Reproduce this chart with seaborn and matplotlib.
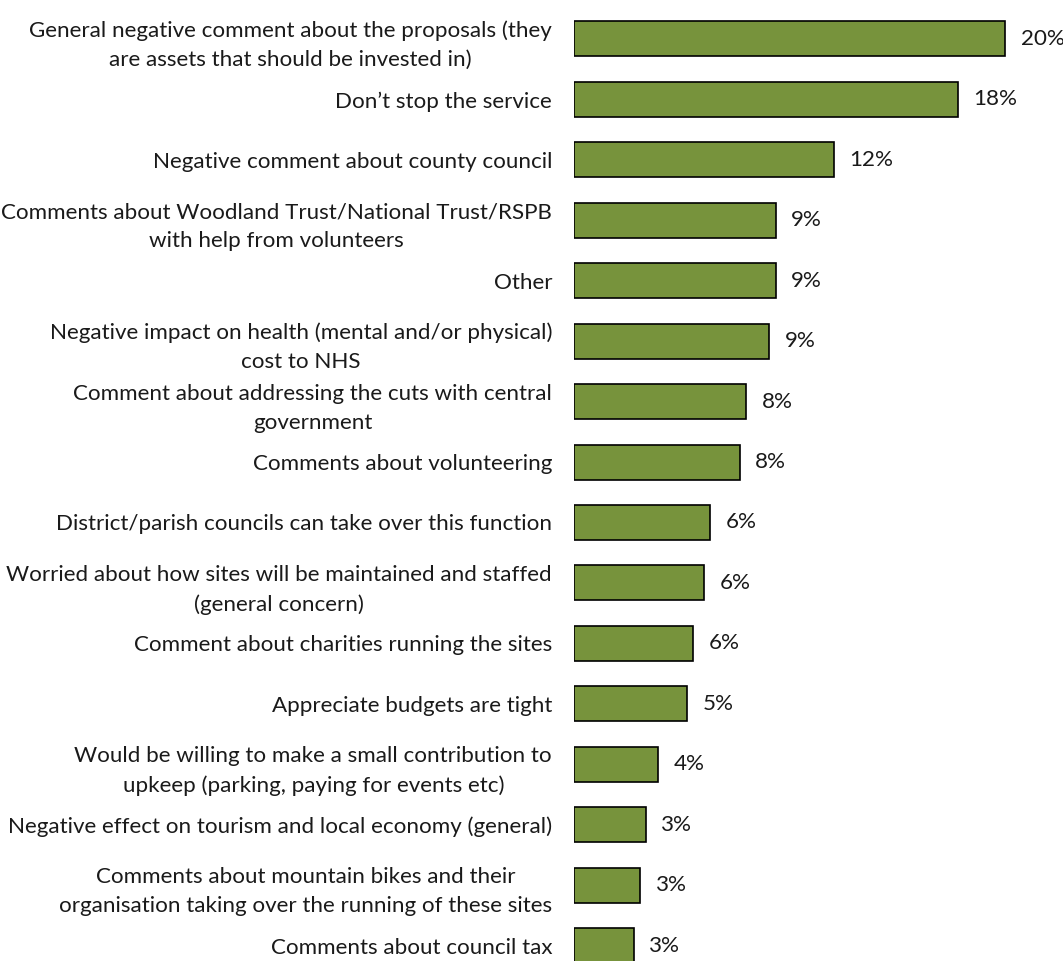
import matplotlib
matplotlib.use("Agg")
import matplotlib.pyplot as plt
from matplotlib.font_manager import FontProperties
import seaborn as sns
import pandas as pd

categories = [
    "General negative comment about the proposals (they\nare assets that should be invested in)",
    "Don\u2019t stop the service",
    "Negative comment about county council",
    "Comments about Woodland Trust/National Trust/RSPB\nwith help from volunteers",
    "Other",
    "Negative impact on health (mental and/or physical)\ncost to NHS",
    "Comment about addressing the cuts with central\ngovernment",
    "Comments about volunteering",
    "District/parish councils can take over this function",
    "Worried about how sites will be maintained and staffed\n(general concern)",
    "Comment about charities running the sites",
    "Appreciate budgets are tight",
    "Would be willing to make a small contribution to\nupkeep (parking, paying for events etc)",
    "Negative effect on tourism and local economy (general)",
    "Comments about mountain bikes and their\norganisation taking over the running of these sites",
    "Comments about council tax",
]
values = [20.0, 17.8, 12.05, 9.35, 9.35, 9.03, 7.97, 7.68, 6.3, 6.03, 5.5, 5.23, 3.87, 3.31, 3.05, 2.76]
value_labels = ["20%", "18%", "12%", "9%", "9%", "9%", "8%", "8%", "6%", "6%", "6%", "5%", "4%", "3%", "3%", "3%"]

FONT = "Lato"
sns.set_style("white")
plt.rcParams["font.family"] = [FONT, "DejaVu Sans"]

W, H = 1063, 961
fig = plt.figure(figsize=(W / 100, H / 100), dpi=100)
renderer = fig.canvas.get_renderer()

# fit font size so the widest label line matches the reference width (~521 px)
fp = FontProperties(family=FONT, size=10)
w10, _, _ = renderer.get_text_width_height_descent(
    "General negative comment about the proposals (they", fp, ismath=False)
fs = 10 * 521.0 / w10
fp2 = FontProperties(family=FONT, size=fs)
_, lh, ld = renderer.get_text_width_height_descent("lp", fp2, ismath=False)
linesp = (29.0 - ld) / (lh - ld)

x0 = 574.3
px_per_unit = 21.55
ax = fig.add_axes([x0 / W, 0, 1 - x0 / W, 1])

df = pd.DataFrame({"cat": categories, "val": values})
sns.barplot(data=df, x="val", y="cat", orient="h", color="#77933C", saturation=1,
            edgecolor="black", linewidth=1.2, width=35 / 60.45, ax=ax)

ax.set_xlim(0, (W - x0) / px_per_unit)
row0 = 38.9
step = 60.45
ax.set_ylim(15 + (H - (row0 + 15 * step)) / step, -row0 / step)

for s in ax.spines.values():
    s.set_visible(False)
ax.set_xticks([])
ax.set_xlabel("")
ax.set_ylabel("")
ax.tick_params(axis="y", length=0, pad=16)
for t in ax.get_yticklabels():
    t.set_fontsize(fs)
    t.set_color("#1a1a1a")
    t.set_multialignment("center")
    t.set_linespacing(linesp)

off = 15.5 / px_per_unit
for i, (v, lab) in enumerate(zip(values, value_labels)):
    ax.text(v + off, i, lab, va="center", ha="left", fontsize=fs, color="#1a1a1a")

fig.savefig("out.png", dpi=100)
